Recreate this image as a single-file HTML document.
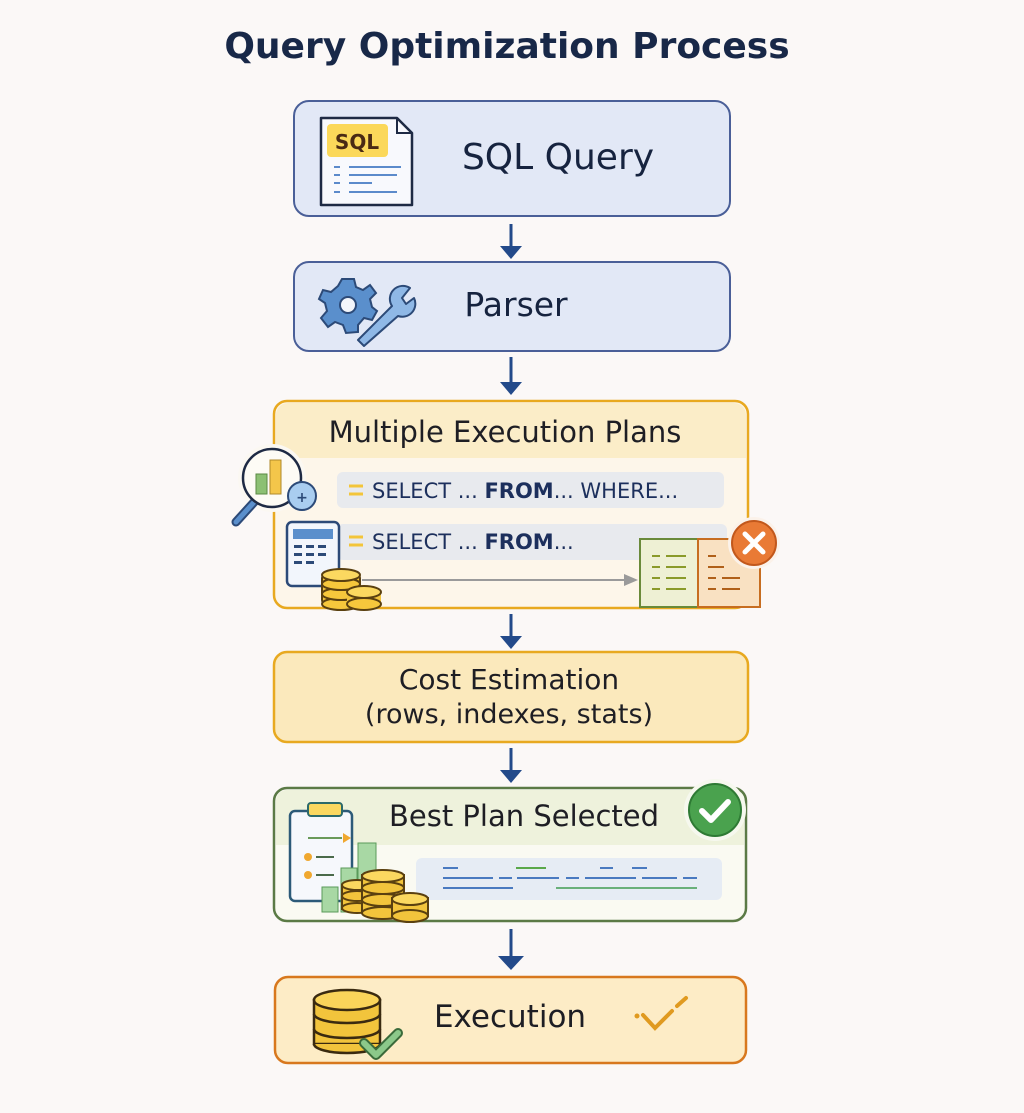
<!DOCTYPE html>
<html><head><meta charset="utf-8"><style>
html,body{margin:0;padding:0;background:#fbf8f7;}
svg{display:block}
text{font-family:"DejaVu Sans","Liberation Sans",sans-serif;}
</style></head><body>
<svg width="1024" height="1113" viewBox="0 0 1024 1113" xmlns="http://www.w3.org/2000/svg">
<rect width="1024" height="1113" fill="#fbf8f7"/>
<text x="507" y="58" text-anchor="middle" font-size="36" fill="#182848" font-weight="bold">Query Optimization Process</text>

<!-- arrows -->
<g stroke="#234a8a" stroke-width="3" fill="#234a8a">
<line x1="511" y1="224" x2="511" y2="248"/><path d="M500 246 L522 246 L511 259Z" stroke="none"/>
<line x1="511" y1="357" x2="511" y2="384"/><path d="M500 382 L522 382 L511 395Z" stroke="none"/>
<line x1="511" y1="614" x2="511" y2="638"/><path d="M500 636 L522 636 L511 649Z" stroke="none"/>
<line x1="511" y1="748" x2="511" y2="772"/><path d="M500 770 L522 770 L511 783Z" stroke="none"/>
<line x1="511" y1="929" x2="511" y2="958"/><path d="M498 956 L524 956 L511 970Z" stroke="none"/>
</g>

<!-- SQL Query -->
<rect x="294" y="101" width="436" height="115" rx="15" fill="#e2e8f6" stroke="#4a5f98" stroke-width="2"/>
<path d="M321 118 H397 L412 133 V205 H321Z" fill="#f8f9fd" stroke="#1e2a44" stroke-width="2.5" stroke-linejoin="round"/>
<path d="M397 118 V133 H412" fill="none" stroke="#1e2a44" stroke-width="2"/>
<rect x="327" y="124" width="61" height="33" rx="4" fill="#fbd85a"/>
<text x="357" y="149" text-anchor="middle" font-size="20" font-weight="bold" fill="#4a2a14">SQL</text>
<g stroke="#5b8acb" stroke-width="2"><line x1="334" y1="167" x2="340" y2="167"/><line x1="349" y1="167" x2="401" y2="167"/><line x1="334" y1="175" x2="340" y2="175"/><line x1="349" y1="175" x2="397" y2="175"/><line x1="334" y1="183" x2="340" y2="183"/><line x1="349" y1="183" x2="372" y2="183"/><line x1="334" y1="192" x2="340" y2="192"/><line x1="349" y1="192" x2="397" y2="192"/></g>
<text x="558" y="169" text-anchor="middle" font-size="36" fill="#16233f">SQL Query</text>

<!-- Parser -->
<rect x="294" y="262" width="436" height="89" rx="15" fill="#e2e8f6" stroke="#4a5f98" stroke-width="2"/>
<g transform="translate(348,305)">
<g fill="#5a8fcc" stroke="#2c4a78" stroke-width="2">
<path d="M-6 -26 L6 -26 L8 -18 L15 -15 L22 -20 L28 -12 L22 -6 L24 2 L29 6 L24 15 L16 13 L10 20 L10 27 L-2 28 L-5 20 L-13 17 L-20 22 L-27 13 L-21 6 L-23 -2 L-29 -6 L-25 -15 L-17 -13 L-10 -19Z"/>
</g>
<circle cx="0" cy="0" r="8" fill="#f2f5fb" stroke="#2c4a78" stroke-width="2"/>
</g>
<path d="M358 340 L392 306 A13 13 0 0 1 410 288 L402 298 L406 304 L414 298 A13 13 0 0 1 398 316 L364 346 Z" fill="#8fb8e6" stroke="#2c4a78" stroke-width="2" stroke-linejoin="round"/>
<text x="516" y="316" text-anchor="middle" font-size="33" fill="#16233f">Parser</text>

<!-- Multiple Execution Plans -->
<rect x="274" y="401" width="474" height="207" rx="13" fill="#fdf6ea" stroke="#e8a920" stroke-width="2.5"/>
<path d="M276 458 V414 A12 12 0 0 1 288 403 H734 A12 12 0 0 1 746 414 V458Z" fill="#fbedc8"/>
<text x="505" y="442" text-anchor="middle" font-size="29" fill="#1e1e24">Multiple Execution Plans</text>
<rect x="337" y="472" width="387" height="36" rx="6" fill="#e8eaee"/>
<rect x="337" y="524" width="390" height="36" rx="6" fill="#e8eaee"/>
<g stroke="#f3c53a" stroke-width="3"><line x1="349" y1="486" x2="363" y2="486"/><line x1="349" y1="494" x2="363" y2="494"/><line x1="349" y1="537" x2="363" y2="537"/><line x1="349" y1="545" x2="363" y2="545"/></g>
<text x="372" y="498" font-size="21" fill="#1c2f5c">SELECT ... <tspan font-weight="bold">FROM</tspan>... WHERE...</text>
<text x="372" y="549" font-size="21" fill="#1c2f5c">SELECT ... <tspan font-weight="bold">FROM</tspan>...</text>
<!-- magnifier -->
<circle cx="272" cy="478" r="34" fill="#fbf8f2"/>
<line x1="256" y1="500" x2="236" y2="522" stroke="#2c4a78" stroke-width="9" stroke-linecap="round"/>
<line x1="256" y1="500" x2="236" y2="522" stroke="#5a8fcc" stroke-width="5" stroke-linecap="round"/>
<circle cx="272" cy="478" r="29" fill="#fdfbf5" stroke="#1e2a44" stroke-width="2.5"/>
<rect x="256" y="474" width="11" height="20" fill="#8cc073" stroke="#5a8a44"/>
<rect x="270" y="460" width="11" height="34" fill="#f4c64a" stroke="#b08a2a"/>
<circle cx="302" cy="496" r="14" fill="#a9cdf0" stroke="#2c4a78" stroke-width="2"/>
<text x="302" y="502" text-anchor="middle" font-size="14" font-weight="bold" fill="#2c4a78">+</text>
<!-- calculator -->
<rect x="287" y="522" width="52" height="64" rx="5" fill="#f2f6fc" stroke="#2c4a78" stroke-width="2.5"/>
<rect x="293" y="529" width="40" height="10" fill="#5a8fcc"/>
<g fill="#2c4a78"><rect x="294" y="545" width="8" height="3"/><rect x="306" y="545" width="8" height="3"/><rect x="318" y="545" width="8" height="3"/><rect x="294" y="553" width="8" height="3"/><rect x="306" y="553" width="8" height="3"/><rect x="318" y="553" width="8" height="3"/><rect x="294" y="561" width="8" height="3"/><rect x="306" y="561" width="8" height="3"/></g>
<!-- coins -->
<g stroke="#5a4010" stroke-width="2" fill="#f6c73c">
<rect x="322" y="574" width="38" height="30" rx="4" fill="#f2c43c"/>
<ellipse cx="341" cy="604" rx="19" ry="6"/><ellipse cx="341" cy="594" rx="19" ry="6"/><ellipse cx="341" cy="584" rx="19" ry="6"/><ellipse cx="341" cy="575" rx="19" ry="6" fill="#fbd860"/>
<rect x="347" y="591" width="34" height="16" fill="#f2c43c" stroke="none"/>
<ellipse cx="364" cy="604" rx="17" ry="6"/><ellipse cx="364" cy="592" rx="17" ry="6" fill="#fbd860"/>
</g>
<line x1="362" y1="580" x2="626" y2="580" stroke="#9a9a9a" stroke-width="2"/>
<path d="M624 574 L638 580 L624 586Z" fill="#9a9a9a"/>
<!-- table with X -->
<rect x="640" y="539" width="58" height="68" fill="#eef0d4" stroke="#6a8a3a" stroke-width="2"/>
<rect x="698" y="539" width="62" height="68" fill="#f9e1c2" stroke="#c76d20" stroke-width="2"/>
<g stroke="#8a9a2a" stroke-width="2"><line x1="652" y1="556" x2="660" y2="556"/><line x1="666" y1="556" x2="686" y2="556"/><line x1="652" y1="567" x2="660" y2="567"/><line x1="666" y1="567" x2="686" y2="567"/><line x1="652" y1="578" x2="660" y2="578"/><line x1="666" y1="578" x2="686" y2="578"/><line x1="652" y1="589" x2="660" y2="589"/><line x1="666" y1="589" x2="686" y2="589"/></g>
<g stroke="#b0601a" stroke-width="2"><line x1="708" y1="556" x2="716" y2="556"/><line x1="708" y1="567" x2="724" y2="567"/><line x1="708" y1="578" x2="716" y2="578"/><line x1="722" y1="578" x2="740" y2="578"/><line x1="708" y1="589" x2="716" y2="589"/><line x1="722" y1="589" x2="740" y2="589"/></g>
<circle cx="754" cy="543" r="26" fill="#fbf2ea"/>
<circle cx="754" cy="543" r="22" fill="#e97a35" stroke="#c2581c" stroke-width="2"/>
<path d="M745 534 L763 552 M763 534 L745 552" stroke="#fff" stroke-width="5" stroke-linecap="round"/>

<!-- Cost Estimation -->
<rect x="274" y="652" width="474" height="90" rx="13" fill="#fbe9bc" stroke="#e8a920" stroke-width="2.5"/>
<text x="509" y="689" text-anchor="middle" font-size="28" fill="#1e1e24">Cost Estimation</text>
<text x="509" y="723" text-anchor="middle" font-size="27" fill="#1e1e24">(rows, indexes, stats)</text>

<!-- Best Plan Selected -->
<rect x="274" y="788" width="472" height="133" rx="13" fill="#fafaf2" stroke="#5b7a46" stroke-width="2.5"/>
<path d="M276 845 V800 A11 11 0 0 1 287 790 H733 A11 11 0 0 1 744 800 V845Z" fill="#eef2dc"/>
<text x="524" y="826" text-anchor="middle" font-size="29" fill="#1e1e24">Best Plan Selected</text>
<rect x="416" y="858" width="306" height="42" rx="6" fill="#e6ecf4"/>
<g stroke="#4a7ac0" stroke-width="2"><line x1="443" y1="868" x2="458" y2="868"/><line x1="600" y1="868" x2="613" y2="868"/><line x1="632" y1="868" x2="647" y2="868"/><line x1="443" y1="878" x2="493" y2="878"/><line x1="499" y1="878" x2="512" y2="878"/><line x1="517" y1="878" x2="559" y2="878"/><line x1="566" y1="878" x2="579" y2="878"/><line x1="585" y1="878" x2="636" y2="878"/><line x1="642" y1="878" x2="677" y2="878"/><line x1="683" y1="878" x2="697" y2="878"/><line x1="443" y1="888" x2="513" y2="888"/></g>
<line x1="516" y1="868" x2="546" y2="868" stroke="#5aa84a" stroke-width="2"/>
<line x1="556" y1="888" x2="697" y2="888" stroke="#6ab07a" stroke-width="2"/>
<circle cx="715" cy="810" r="31" fill="#f6f8ee"/>
<circle cx="715" cy="810" r="26" fill="#4aa24e" stroke="#2e7a34" stroke-width="2"/>
<path d="M702 811 L711 820 L728 802" fill="none" stroke="#fff" stroke-width="6" stroke-linecap="round" stroke-linejoin="round"/>
<!-- clipboard -->
<rect x="290" y="811" width="62" height="90" rx="5" fill="#f6f8fc" stroke="#2c5a78" stroke-width="2.5"/>
<rect x="308" y="803" width="34" height="13" rx="3" fill="#fbd860" stroke="#2c6a6a" stroke-width="2"/>
<line x1="308" y1="838" x2="342" y2="838" stroke="#6a9a5a" stroke-width="2"/><path d="M343 833 L351 838 L343 843Z" fill="#f0a830"/>
<circle cx="308" cy="857" r="4" fill="#f0a830"/><line x1="316" y1="857" x2="334" y2="857" stroke="#4a6a4a" stroke-width="2"/>
<circle cx="308" cy="875" r="4" fill="#f0a830"/><line x1="316" y1="875" x2="334" y2="875" stroke="#4a6a4a" stroke-width="2"/>
<rect x="322" y="887" width="16" height="25" fill="#a8d8a4" stroke="#5a9a5a"/>
<rect x="341" y="868" width="16" height="44" fill="#a8d8a4" stroke="#5a9a5a"/>
<rect x="358" y="843" width="18" height="69" fill="#a8d8a4" stroke="#5a9a5a"/>
<g stroke="#5a4010" stroke-width="2" fill="#f2c43c">
<rect x="342" y="885" width="30" height="24" fill="#f2c43c"/>
<ellipse cx="357" cy="908" rx="15" ry="5"/><ellipse cx="357" cy="896" rx="15" ry="5"/><ellipse cx="357" cy="885" rx="15" ry="5" fill="#fbd860"/>
<rect x="362" y="875" width="42" height="38" fill="#f2c43c"/>
<ellipse cx="383" cy="913" rx="21" ry="6"/><ellipse cx="383" cy="900" rx="21" ry="6"/><ellipse cx="383" cy="888" rx="21" ry="6"/><ellipse cx="383" cy="876" rx="21" ry="6" fill="#fbd860"/>
<rect x="392" y="898" width="36" height="18" fill="#f2c43c"/>
<ellipse cx="410" cy="916" rx="18" ry="6"/><ellipse cx="410" cy="899" rx="18" ry="6" fill="#fbd860"/>
</g>

<!-- Execution -->
<rect x="275" y="977" width="471" height="86" rx="13" fill="#fdecc6" stroke="#d8781e" stroke-width="2.5"/>
<g stroke="#3a2a10" stroke-width="2.5" fill="#f2c43c">
<rect x="314" y="1000" width="66" height="44" fill="#f2c43c"/>
<path d="M314 1044 A33 9 0 0 0 380 1044"/>
<path d="M314 1029 A33 9 0 0 0 380 1029" fill="none"/>
<path d="M314 1014 A33 9 0 0 0 380 1014" fill="none"/>
<ellipse cx="347" cy="1000" rx="33" ry="10" fill="#fad45a"/>
</g>
<path d="M364 1043 L376 1055 L398 1033" fill="none" stroke="#3a6a3a" stroke-width="10" stroke-linecap="round" stroke-linejoin="round"/>
<path d="M364 1043 L376 1055 L398 1033" fill="none" stroke="#8cc88a" stroke-width="6" stroke-linecap="round" stroke-linejoin="round"/>
<text x="510" y="1027" text-anchor="middle" font-size="31" fill="#1e1e24">Execution</text>
<path d="M643 1015 L655 1028 L672 1011 M677 1006 L686 998" fill="none" stroke="#e09a20" stroke-width="4" stroke-linecap="round"/>
<circle cx="637" cy="1016" r="2.5" fill="#e09a20"/>
</svg>
</body></html>
